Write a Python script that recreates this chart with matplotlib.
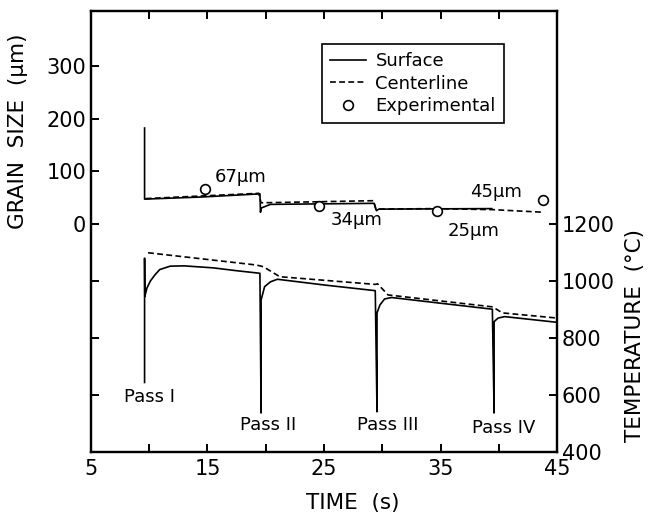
import numpy as np
import matplotlib
matplotlib.use("Agg")
import matplotlib.pyplot as plt
from matplotlib.lines import Line2D

# Temperature, surface (solid) - time (s), temp (C)
surf_temp_t = [9.6, 9.6, 9.62, 9.8, 10.1, 10.5, 10.9, 11.8, 13.0, 15.5, 17.5, 19.5,
               19.6, 19.6, 19.9, 20.4, 21.0, 25.0, 29.4,
               29.55, 29.55, 29.8, 30.2, 30.8, 35.0, 39.45,
               39.6, 39.6, 39.75, 39.95, 40.5, 45.0]
surf_temp = [644, 1080, 945, 975, 1000, 1022, 1040, 1052, 1053, 1046, 1036, 1027,
             537, 933, 980, 997, 1006, 986, 966,
             541, 888, 916, 937, 942, 922, 901,
             537, 857, 863, 870, 875, 855]

# Temperature, centerline (dashed)
cent_temp_t = [9.9, 19.2, 19.8, 21.2, 29.4, 29.6, 30.5, 35.0, 39.5, 40.3, 45.0]
cent_temp = [1099, 1056, 1050, 1015, 988, 990, 951, 930, 909, 888, 870]

# Grain size, surface (solid) - um
surf_grain_t = [9.6, 9.6, 14.5, 19.5, 19.55, 19.6, 20.4, 29.3, 29.5, 29.7, 39.4]
surf_grain = [182, 47, 51, 57, 22, 30, 37, 39, 25, 28, 29]

# Grain size, centerline (dashed)
cent_grain_t = [9.7, 14.5, 19.4, 19.6, 24.5, 29.25, 29.45, 34.5, 39.5, 43.9]
cent_grain = [48, 53, 58, 40, 42, 44, 28, 29, 27, 22]

# Experimental grain sizes
exp_t = [14.8, 24.6, 34.7, 43.8]
exp_grain = [67, 34, 25, 45]
exp_labels = ["67μm", "34μm", "25μm", "45μm"]
exp_label_pos = [(15.6, 89), (25.6, 8), (35.6, -13), (37.5, 61)]

pass_labels = ["Pass I", "Pass II", "Pass III", "Pass IV"]
pass_label_pos = [(7.8, 593), (17.8, 495), (27.8, 495), (37.7, 484)]

fig = plt.figure(figsize=(6.48, 5.15), dpi=100)
ax = fig.add_axes([0.1404, 0.1223, 0.7192, 0.8563])
ax2 = ax.twinx()

lw = 1.2
dash = (3.5, 2)

# grain size on left axis
ax.plot(surf_grain_t, surf_grain, color="black", lw=lw)
ax.plot(cent_grain_t, cent_grain, color="black", lw=lw, ls="--", dashes=dash)
ax.plot(exp_t, exp_grain, "o", mfc="white", mec="black", ms=7, mew=1.2)
for lab, (x, y) in zip(exp_labels, exp_label_pos):
    ax.text(x, y, lab, fontsize=13, ha="left", va="center")

# temperature on right axis
ax2.plot(surf_temp_t, surf_temp, color="black", lw=lw)
ax2.plot(cent_temp_t, cent_temp, color="black", lw=lw, ls="--", dashes=dash)
for lab, (x, y) in zip(pass_labels, pass_label_pos):
    ax2.text(x, y, lab, fontsize=13, ha="left", va="center")

ax.set_xlim(5, 45)
ax.set_ylim(-433, 404)
ax2.set_ylim(400, 1947)

ax.set_xticks([5, 15, 25, 35, 45])
ax.set_xticks([10, 20, 30, 40], minor=True)
ax.set_yticks([0, 100, 200, 300])
ax2.set_yticks([400, 600, 800, 1000, 1200])

ax.tick_params(axis="x", which="both", direction="in", top=True, length=6, width=1.4,
               labelsize=15, pad=5)
ax.tick_params(axis="y", direction="in", length=6, width=1.4, labelsize=15, right=False)
ax2.tick_params(axis="y", direction="in", length=6, width=1.4, labelsize=15,
                left=True, right=True, labelleft=False, labelright=True)

for a in (ax, ax2):
    for s in a.spines.values():
        s.set_linewidth(1.6)

ax.set_xlabel("TIME  (s)", fontsize=15.5)
ax.xaxis.set_label_coords(0.562, -0.092)
ax.set_ylabel("GRAIN  SIZE  (μm)", fontsize=15.5)
ax.yaxis.set_label_coords(-0.135, 0.728)
ax2.set_ylabel("TEMPERATURE  (°C)", fontsize=15.5)
ax2.yaxis.set_label_coords(1.146, 0.265)

handles = [Line2D([], [], color="black", lw=lw),
           Line2D([], [], color="black", lw=lw, ls="--", dashes=dash),
           Line2D([], [], ls="none", marker="o", mfc="white", mec="black", ms=7, mew=1.2)]
leg = ax2.legend(handles, ["Surface", "Centerline", "Experimental"],
                 loc="upper left", bbox_to_anchor=(0.496, 0.925), borderaxespad=0,
                 fontsize=13, fancybox=False, framealpha=1, edgecolor="black",
                 handlelength=2.0, handletextpad=0.5, borderpad=0.45, labelspacing=0.25)
leg.get_frame().set_linewidth(1.2)

fig.savefig("out.png", dpi=100)
